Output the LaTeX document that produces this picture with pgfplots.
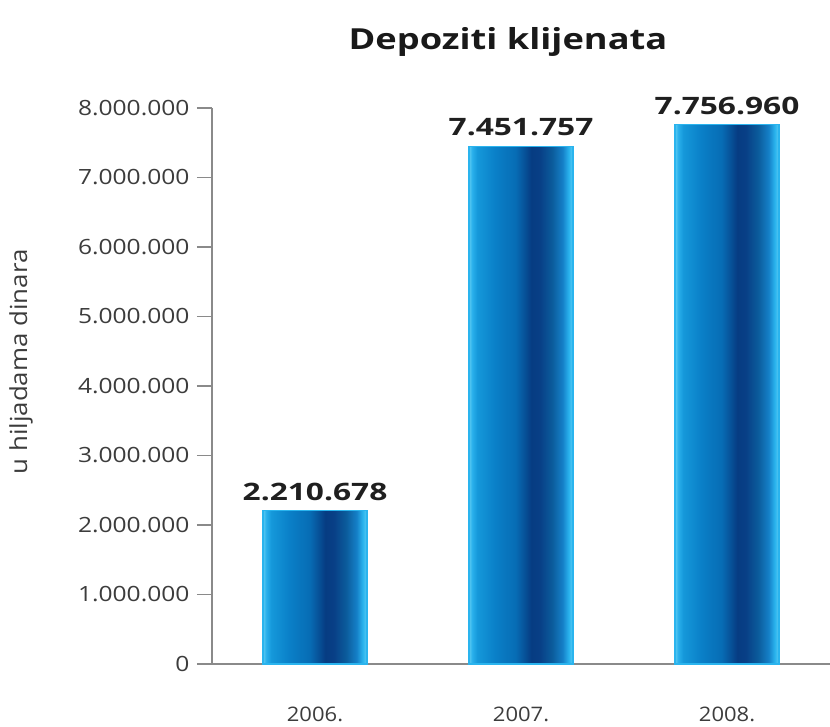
\documentclass[border=0pt]{standalone}
\usepackage{fontspec}
\setmainfont{Open Sans}
\newfontfamily\titlefont[FakeStretch=1.25]{Open Sans}
\newfontfamily\valfont[FakeStretch=1.32]{Open Sans}
\newfontfamily\tickfont[FakeStretch=1.17]{Open Sans}
\newfontfamily\labfont[FakeStretch=1.1]{Open Sans}
\usepackage{pgfplots}
\pgfplotsset{compat=1.18}
\definecolor{c0}{HTML}{5CCBF2}
\definecolor{c1}{HTML}{2AB0EC}
\definecolor{c2}{HTML}{1598DA}
\definecolor{c3}{HTML}{0A80C8}
\definecolor{c4}{HTML}{076CB4}
\definecolor{c5}{HTML}{063C82}
\definecolor{c6}{HTML}{083F86}
\definecolor{c7}{HTML}{0B5C9C}
\definecolor{c8}{HTML}{1580C8}
\definecolor{cedge}{HTML}{2AB4EE}
\definecolor{axgray}{HTML}{8A8A8A}
\definecolor{txgray}{HTML}{3C3C3C}
\pgfdeclarehorizontalshading{barshade}{100bp}{%
  color(0bp)=(c0); color(25bp)=(c0); color(26.5bp)=(c1); color(29bp)=(c2);
  color(37.5bp)=(c3); color(47.5bp)=(c4); color(55bp)=(c5); color(59bp)=(c6);
  color(65bp)=(c7); color(70bp)=(c8); color(73bp)=(cedge); color(75bp)=(c0); color(100bp)=(c0)}
\pgfplotsset{barstyle/.style={shading=barshade, draw=cedge, line width=1.2pt, bar shift=0pt}}
\begin{document}
\begin{tikzpicture}[x=1pt,y=1pt]
\useasboundingbox (0,0) rectangle (830,726);
\node[anchor=base, font=\titlefont\fontsize{29}{34}\selectfont\bfseries, text=black!90] at (508,676) {Depoziti klijenata};
\node[font=\labfont\fontsize{23.5}{27}\selectfont, text=txgray, rotate=90] at (21,364) {u hiljadama dinara};
\begin{axis}[
  at={(212pt,62pt)}, anchor=south west,
  scale only axis, width=618pt, height=556pt,
  xmin=-0.5, xmax=2.5, ymin=0, ymax=8000000,
  axis x line=bottom, axis y line=left,
  axis line style={axgray, line width=1.1pt, -},
  clip=false,
  ybar, bar width=104pt,
  xtick={0,1,2}, xticklabels={2006.,2007.,2008.},
  x tick style={draw=none},
  xticklabel style={font=\labfont\fontsize{20}{24}\selectfont, text=txgray, yshift=-24pt},
  extra x ticks={-0.5,0.5,1.5},
  extra x tick labels={},
  extra x tick style={tick style={draw=axgray, line width=1.1pt}, major tick length=16pt, tick align=outside},
  ytick={0,1000000,2000000,3000000,4000000,5000000,6000000,7000000,8000000},
  yticklabels={0,1.000.000,2.000.000,3.000.000,4.000.000,5.000.000,6.000.000,7.000.000,8.000.000},
  y tick style={draw=axgray, line width=1.1pt},
  major tick length=15pt, tick align=outside,
  yticklabel style={font=\tickfont\fontsize{21}{24}\selectfont, text=txgray, xshift=-4pt},
  scaled y ticks=false,
  nodes near coords, point meta=explicit symbolic,
  every node near coord/.append style={font=\valfont\fontsize{24}{28}\selectfont\bfseries, text=black!88, yshift=6pt},
]
\addplot[barstyle] coordinates {(0,2210678) [2.210.678]};
\addplot[barstyle] coordinates {(1,7451757) [7.451.757]};
\addplot[barstyle] coordinates {(2,7756960) [7.756.960]};
\end{axis}
\end{tikzpicture}
\end{document}
